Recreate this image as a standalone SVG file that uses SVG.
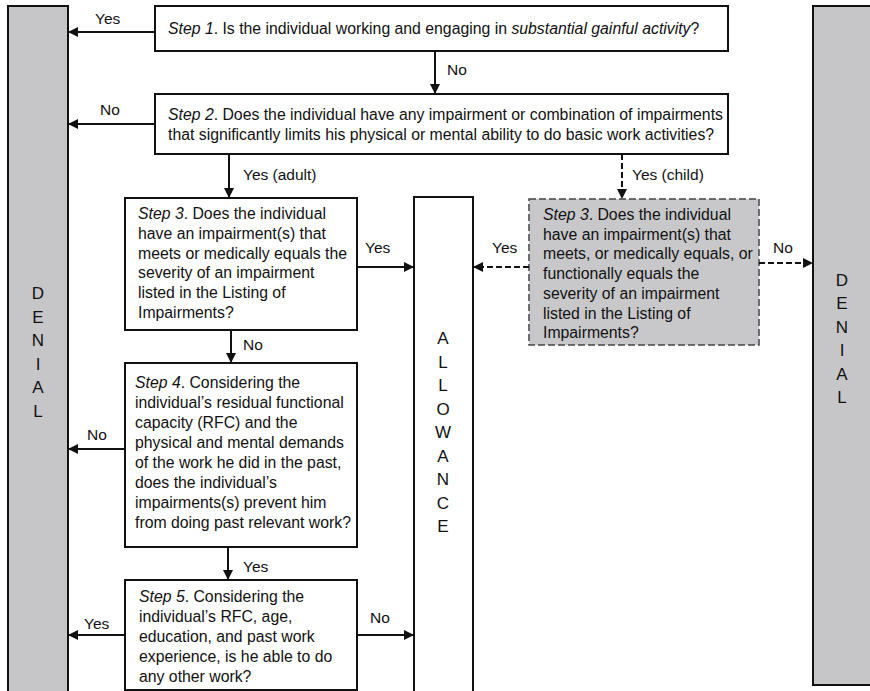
<svg xmlns="http://www.w3.org/2000/svg" width="870" height="691" viewBox="0 0 870 691">
<defs>
<style>
text{font-family:"Liberation Sans",Arial,Helvetica,sans-serif;fill:#111;}
.t{font-size:15.8px;}
.lb{font-size:15.5px;}
.big{font-size:17px;text-anchor:middle;}
.box{fill:#fff;stroke:#111;stroke-width:2;}
.bar{fill:#c6c6c8;stroke:#111;stroke-width:2;}
.dbox{fill:#c8c8ca;stroke:#444;stroke-width:1.5;stroke-dasharray:7 3;}
.c{fill:none;stroke:#111;stroke-width:2;marker-end:url(#ah);}
.cd{fill:none;stroke:#111;stroke-width:2;stroke-dasharray:6 3;marker-end:url(#ah);}
</style>
<marker id="ah" markerUnits="userSpaceOnUse" markerWidth="11" markerHeight="10" refX="10" refY="5" orient="auto">
<path d="M0,0 L10,5 L0,10 z" fill="#111"/>
</marker>
</defs>
<rect width="870" height="691" fill="#fff"/>

<g id="denial-left">
<rect class="bar" x="8" y="6" width="60" height="690"/>
<text class="big" x="38" y="299">D</text>
<text class="big" x="38" y="323">E</text>
<text class="big" x="38" y="346">N</text>
<text class="big" x="38" y="370">I</text>
<text class="big" x="38" y="393">A</text>
<text class="big" x="38" y="417">L</text>
</g>

<g id="denial-right">
<rect class="bar" x="813" y="6" width="70" height="679"/>
<text class="big" x="842" y="286">D</text>
<text class="big" x="842" y="309">E</text>
<text class="big" x="842" y="333">N</text>
<text class="big" x="842" y="356">I</text>
<text class="big" x="842" y="380">A</text>
<text class="big" x="842" y="403">L</text>
</g>

<g id="allowance">
<rect class="box" x="414" y="197" width="59" height="500"/>
<text class="big" x="443" y="344">A</text>
<text class="big" x="443" y="368">L</text>
<text class="big" x="443" y="391">L</text>
<text class="big" x="443" y="415">O</text>
<text class="big" x="443" y="438">W</text>
<text class="big" x="443" y="462">A</text>
<text class="big" x="443" y="485">N</text>
<text class="big" x="443" y="509">C</text>
<text class="big" x="443" y="532">E</text>
</g>

<g id="step1">
<rect class="box" x="155" y="6" width="573" height="45"/>
<text class="t" x="168" y="34"><tspan font-style="italic">Step 1</tspan>. Is the individual working and engaging in <tspan font-style="italic">substantial gainful activity</tspan>?</text>
</g>

<g id="step2">
<rect class="box" x="155" y="94" width="573" height="60"/>
<text class="t" x="168" y="120"><tspan font-style="italic">Step 2</tspan>. Does the individual have any impairment or combination of impairments</text>
<text class="t" x="168" y="139.5">that significantly limits his physical or mental ability to do basic work activities?</text>
</g>

<g id="step3-adult">
<rect class="box" x="125" y="198" width="232" height="132"/>
<text class="t" x="138" y="219"><tspan font-style="italic">Step 3</tspan>. Does the individual</text>
<text class="t" x="138" y="238.8">have an impairment(s) that</text>
<text class="t" x="138" y="258.6">meets or medically equals the</text>
<text class="t" x="138" y="278.4">severity of an impairment</text>
<text class="t" x="138" y="298.2">listed in the Listing of</text>
<text class="t" x="138" y="318">Impairments?</text>
</g>

<g id="step3-child">
<rect class="dbox" x="529" y="199" width="230" height="146"/>
<text class="t" x="543" y="220"><tspan font-style="italic">Step 3</tspan>. Does the individual</text>
<text class="t" x="543" y="239.7">have an impairment(s) that</text>
<text class="t" x="543" y="259.4">meets, or medically equals, or</text>
<text class="t" x="543" y="279.1">functionally equals the</text>
<text class="t" x="543" y="298.8">severity of an impairment</text>
<text class="t" x="543" y="318.5">listed in the Listing of</text>
<text class="t" x="543" y="338.2">Impairments?</text>
</g>

<g id="step4">
<rect class="box" x="125" y="363" width="232" height="184"/>
<text class="t" x="135" y="388"><tspan font-style="italic">Step 4</tspan>. Considering the</text>
<text class="t" x="135" y="408">individual’s residual functional</text>
<text class="t" x="135" y="428">capacity (RFC) and the</text>
<text class="t" x="135" y="448">physical and mental demands</text>
<text class="t" x="135" y="468">of the work he did in the past,</text>
<text class="t" x="135" y="488">does the individual’s</text>
<text class="t" x="135" y="508">impairments(s) prevent him</text>
<text class="t" x="135" y="528">from doing past relevant work?</text>
</g>

<g id="step5">
<rect class="box" x="125" y="580" width="232" height="110"/>
<text class="t" x="139" y="602"><tspan font-style="italic">Step 5</tspan>. Considering the</text>
<text class="t" x="139" y="622">individual’s RFC, age,</text>
<text class="t" x="139" y="642">education, and past work</text>
<text class="t" x="139" y="662">experience, is he able to do</text>
<text class="t" x="139" y="682">any other work?</text>
</g>

<g id="connectors">
<path class="c" d="M155,32 H68"/>
<path class="c" d="M435,51 V94"/>
<path class="c" d="M155,124 H68"/>
<path class="c" d="M229,154 V198"/>
<path class="cd" d="M622,154 V199"/>
<path class="c" d="M357,267 H414"/>
<path class="cd" d="M529,267 H473"/>
<path class="cd" d="M759,263 H813"/>
<path class="c" d="M231,330 V363"/>
<path class="c" d="M125,449 H68"/>
<path class="c" d="M228,547 V580"/>
<path class="c" d="M125,635 H68"/>
<path class="c" d="M357,635 H414"/>
<text class="lb" x="95" y="24">Yes</text>
<text class="lb" x="447" y="75">No</text>
<text class="lb" x="100" y="115">No</text>
<text class="lb" x="243" y="180">Yes (adult)</text>
<text class="lb" x="632" y="180">Yes (child)</text>
<text class="lb" x="365" y="253">Yes</text>
<text class="lb" x="492" y="253">Yes</text>
<text class="lb" x="773" y="253">No</text>
<text class="lb" x="243" y="350">No</text>
<text class="lb" x="87" y="440">No</text>
<text class="lb" x="243" y="572">Yes</text>
<text class="lb" x="84" y="629">Yes</text>
<text class="lb" x="370" y="623">No</text>
</g>
</svg>
